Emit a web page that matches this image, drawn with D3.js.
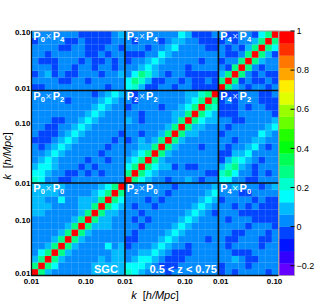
<!DOCTYPE html>
<html>
<head>
<meta charset="utf-8">
<script src="https://cdn.jsdelivr.net/npm/d3@7"></script>
<style>
  body { margin: 0; background: #fff; }
  svg { display: block; font-family: "Liberation Sans", Arial, Helvetica, sans-serif; }
</style>
</head>
<body>
<svg id="chart" width="316" height="307"></svg>
<script>
// Correlation matrix of P0, P2, P4 (SGC, 0.5 < z < 0.75), ROOT-style COLZ

const MULTIPOLES = ['0', '2', '4'];
const NBINS = [14, 14, 9];
const Z_MIN = -0.25, Z_MAX = 1, N_CONTOURS = 20;

// each char is the colour band (0..19 -> '0'..'9','a'..'j')
const CODES = '0123456789abcdefghij';

// diagonal blocks: lower triangle, row i = k-bin, chars = bins 0..i
const B00 = [
    'j',
    '8j',
    '58j',
    '468j',
    '4458j',
    '44458j',
    '444458j',
    '4444458j',
    '44444458j',
    '554444458j',
    '5554444558j',
    '55446445558j',
    '555544444568j',
    '5555544444568j',
];
const B22 = [
    'j',
    '8j',
    '68j',
    '568j',
    '4568j',
    '44558j',
    '345458j',
    '4434458j',
    '44444458j',
    '543444458j',
    '4434444558j',
    '34444344568j',
    '434444444568j',
    '4344444445578j',
];
const B44 = [
    'j',
    '8j',
    '58j',
    '438j',
    '3448j',
    '43348j',
    '434358j',
    '3434458j',
    '43344368j',
];

// cross blocks: row = k-bin of lower multipole, chars = k-bins of higher one
const B02 = [
    '76544434444444',
    '66654333444444',
    '45665433344444',
    '44556543334444',
    '34445654434444',
    '33444565444434',
    '43444456544444',
    '44344445654444',
    '43434444565444',
    '44344444456543',
    '43443444445654',
    '44434344444565',
    '44444434444456',
    '44444443444445',
];
const B04 = [
    '343444434',
    '344434444',
    '445433444',
    '443334444',
    '434444344',
    '433444334',
    '443344434',
    '444434443',
    '434443333',
    '444333333',
    '443434333',
    '344443433',
    '444334444',
    '445444345',
];
const B24 = [
    '664433444',
    '786443434',
    '578543444',
    '357654344',
    '335564444',
    '434456434',
    '443445544',
    '344444654',
    '434444456',
    '443344445',
    '333444443',
    '333434433',
    '343444333',
    '333444334',
];

const X_TICK_BINS = [0, 8.15, 14, 23, 28.35, 36.4];
const Y_TICK_BINS = [0.3, 8.4, 13.95, 23, 28.3, 36.9];
const TICK_LABELS = ['0.01', '0.10', '0.01', '0.10', '0.01', '0.10'];
const Z_TICKS = [-0.2, 0, 0.2, 0.4, 0.6, 0.8, 1];

const SYM = { 0: B00, 1: B22, 2: B44 };
const CROSS = { '0-1': B02, '0-2': B04, '1-2': B24 };

const bandWidth = (Z_MAX - Z_MIN) / N_CONTOURS;
const decode = ch => Z_MIN + (CODES.indexOf(ch) + 0.5) * bandWidth;

function corr(a, i, b, j) {
    if (a === b) {
        const rows = SYM[a];
        return decode(i >= j ? rows[i][j] : rows[j][i]);
    }
    if (a < b) return decode(CROSS[a + '-' + b][i][j]);
    return decode(CROSS[b + '-' + a][j][i]);
}

const svg = d3.select('#chart');
const plot = { left: 31.5, right: 278.5, top: 31, bottom: 275.5 };
const NTOT = d3.sum(NBINS);
const offsets = [0, NBINS[0], NBINS[0] + NBINS[1]];

const x = d3.scaleLinear().domain([0, NTOT]).range([plot.left, plot.right]);
const y = d3.scaleLinear().domain([0, NTOT]).range([plot.bottom, plot.top]);

// old ROOT "pretty palette" (50 hues 280 -> 0) sampled for 20 contours
const palette = d3.range(N_CONTOURS).map(k => {
    const idx = Math.floor((k + 0.99) * 50 / N_CONTOURS);
    const hue = 280 - (idx + 1) * 280 / 50;
    return d3.hsl(hue, 1, 0.5).formatHex();
});
const thresholds = d3.range(1, N_CONTOURS).map(k => Z_MIN + k * bandWidth);
const color = d3.scaleThreshold().domain(thresholds).range(palette);

// cells
const cells = [];
for (let a = 0; a < 3; a++) {
    for (let b = 0; b < 3; b++) {
        for (let i = 0; i < NBINS[a]; i++) {
            for (let j = 0; j < NBINS[b]; j++) {
                cells.push({ gx: offsets[b] + j, gy: offsets[a] + i, v: corr(a, i, b, j) });
            }
        }
    }
}

const cw = x(1) - x(0);
const ch = y(0) - y(1);

svg.append('g')
    .selectAll('rect')
    .data(cells)
    .join('rect')
    .attr('x', d => x(d.gx))
    .attr('y', d => y(d.gy + 1))
    .attr('width', cw + 0.3)
    .attr('height', ch + 0.3)
    .attr('fill', d => color(d.v));

// faint cell seams
const seams = svg.append('g')
    .attr('stroke', '#fff')
    .attr('stroke-opacity', 0.13)
    .attr('stroke-width', 0.6);
seams.selectAll('.vx')
    .data(d3.range(1, NTOT))
    .join('line')
    .attr('x1', d => x(d)).attr('x2', d => x(d))
    .attr('y1', plot.top).attr('y2', plot.bottom);
seams.selectAll('.hy')
    .data(d3.range(1, NTOT))
    .join('line')
    .attr('y1', d => y(d)).attr('y2', d => y(d))
    .attr('x1', plot.left).attr('x2', plot.right);

// frame
svg.append('rect')
    .attr('x', plot.left).attr('y', plot.top)
    .attr('width', plot.right - plot.left)
    .attr('height', plot.bottom - plot.top)
    .attr('fill', 'none')
    .attr('stroke', '#999')
    .attr('stroke-width', 1);
svg.append('path')
    .attr('d', `M${plot.left},${plot.top}V${plot.bottom}H${plot.right}`)
    .attr('fill', 'none')
    .attr('stroke', '#111')
    .attr('stroke-width', 1.3);

// panel separators
const seps = svg.append('g').attr('stroke', '#111').attr('stroke-width', 1.6);
[offsets[1], offsets[2]].forEach(o => {
    seps.append('line').attr('x1', x(o)).attr('x2', x(o)).attr('y1', plot.top).attr('y2', plot.bottom);
    seps.append('line').attr('y1', y(o)).attr('y2', y(o)).attr('x1', plot.left).attr('x2', plot.right);
});

// panel labels  P_a x P_b
for (let a = 0; a < 3; a++) {
    for (let b = 0; b < 3; b++) {
        const t = svg.append('text')
            .attr('x', x(offsets[b]) + 1.8)
            .attr('y', y(offsets[a] + NBINS[a]) + 9.3)
            .attr('fill', '#fff')
            .attr('font-weight', 'bold')
            .attr('font-size', 11);
        t.append('tspan').text('P');
        t.append('tspan').attr('font-size', 7.5).attr('dy', 2).text(MULTIPOLES[b]);
        t.append('tspan').attr('font-size', 10).attr('font-weight', 'normal')
            .attr('fill-opacity', 0.85).attr('dy', -2).attr('dx', 0.6).text('\u00d7');
        t.append('tspan').attr('dx', 1.4).text('P');
        t.append('tspan').attr('font-size', 7.5).attr('dy', 2).text(MULTIPOLES[a]);
    }
}

svg.append('text')
    .attr('x', 94).attr('y', 272.5)
    .attr('fill', '#fff').attr('font-weight', 'bold').attr('font-size', 11)
    .text('SGC');
svg.append('text')
    .attr('x', 149.5).attr('y', 272.5)
    .attr('fill', '#fff').attr('font-weight', 'bold').attr('font-size', 11)
    .text('0.5 < z < 0.75');

// tick labels
svg.append('g')
    .selectAll('text')
    .data(X_TICK_BINS)
    .join('text')
    .attr('x', d => x(d))
    .attr('y', 283.5)
    .attr('text-anchor', 'middle')
    .attr('font-size', 8)
    .attr('font-weight', 'bold')
    .text((d, i) => TICK_LABELS[i]);
svg.append('g')
    .selectAll('text')
    .data(Y_TICK_BINS)
    .join('text')
    .attr('x', 30.5)
    .attr('y', d => y(d) + 2.9)
    .attr('text-anchor', 'end')
    .attr('font-size', 8)
    .attr('font-weight', 'bold')
    .text((d, i) => TICK_LABELS[i]);

// axis titles
function axisTitle(sel) {
    sel.attr('font-size', 11);
    sel.append('tspan').attr('font-style', 'italic').text('k');
    sel.append('tspan').attr('dx', 6).text('[');
    sel.append('tspan').attr('font-style', 'italic').text('h/Mpc');
    sel.append('tspan').text(']');
}
svg.append('text')
    .attr('x', 155).attr('y', 298.5)
    .attr('text-anchor', 'middle')
    .call(axisTitle);
svg.append('text')
    .attr('transform', 'translate(11,156) rotate(-90)')
    .attr('text-anchor', 'middle')
    .call(axisTitle);

// colour bar
const cb = { left: 279, right: 294.5 };
const z = d3.scaleLinear().domain([Z_MIN, Z_MAX]).range([plot.bottom, plot.top]);
svg.append('g')
    .selectAll('rect')
    .data(d3.range(N_CONTOURS))
    .join('rect')
    .attr('x', cb.left)
    .attr('width', cb.right - cb.left)
    .attr('y', k => z(Z_MIN + (k + 1) * bandWidth))
    .attr('height', k => z(Z_MIN + k * bandWidth) - z(Z_MIN + (k + 1) * bandWidth) + 0.3)
    .attr('fill', k => palette[k]);
svg.append('rect')
    .attr('x', cb.left).attr('y', plot.top)
    .attr('width', cb.right - cb.left).attr('height', plot.bottom - plot.top)
    .attr('fill', 'none').attr('stroke', '#aaa').attr('stroke-width', 0.8);

const zAxis = svg.append('g');
zAxis.selectAll('line')
    .data(Z_TICKS)
    .join('line')
    .attr('x1', cb.right - 4).attr('x2', cb.right)
    .attr('y1', d => z(d)).attr('y2', d => z(d))
    .attr('stroke', '#000').attr('stroke-width', 1);
zAxis.selectAll('text')
    .data(Z_TICKS)
    .join('text')
    .attr('x', cb.right + 2)
    .attr('y', d => z(d) + 3.2)
    .attr('font-size', 9)
    .text(d => d3.format('')(d).replace('-', '\u2212'));
</script>
</body>
</html>
